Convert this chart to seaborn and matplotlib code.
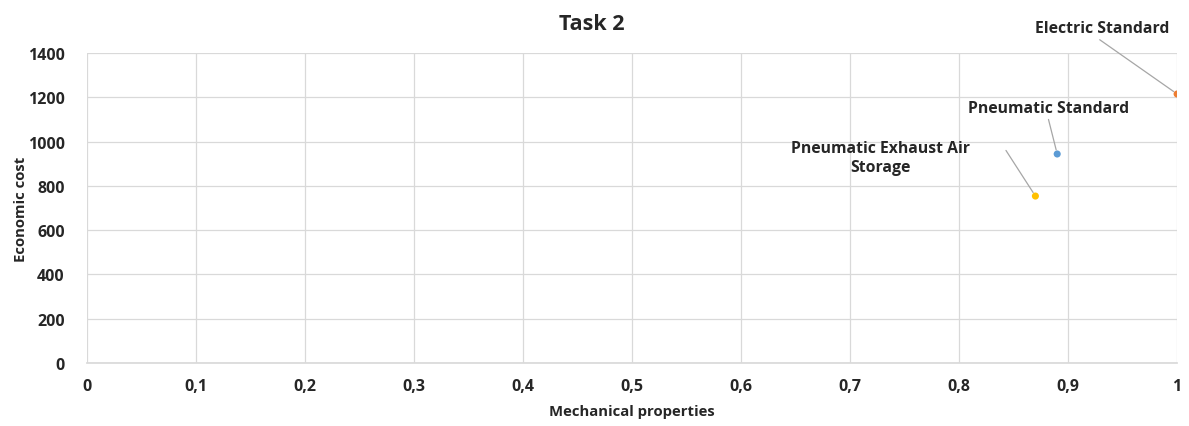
import matplotlib
matplotlib.use("Agg")
import matplotlib.pyplot as plt
import seaborn as sns
import pandas as pd

names = ["Electric Standard", "Pneumatic Standard", "Pneumatic Exhaust Air\nStorage"]
mech = [1.0, 0.89, 0.87]
cost = [1215, 944, 754]
colors = ["#ED7D31", "#5B9BD5", "#FFC000"]
xticks = [0, 0.1, 0.2, 0.3, 0.4, 0.5, 0.6, 0.7, 0.8, 0.9, 1.0]
xticklabels = ["0", "0,1", "0,2", "0,3", "0,4", "0,5", "0,6", "0,7", "0,8", "0,9", "1"]
yticks = [0, 200, 400, 600, 800, 1000, 1200, 1400]

sns.set_theme(style="white")
plt.rcParams['font.family'] = ['Open Sans', 'DejaVu Sans']

df = pd.DataFrame({"name": names, "mech": mech, "cost": cost})

fig = plt.figure(figsize=(11.89, 4.27), dpi=100)
ax = fig.add_axes([0.0732, 0.1475, 0.9168, 0.726])
sns.scatterplot(data=df, x="mech", y="cost", hue="name", palette=colors,
                s=26, edgecolor="none", legend=False, ax=ax, zorder=3)

ax.set_xlim(0, 1)
ax.set_ylim(0, 1400)
ax.set_xticks(xticks)
ax.set_xticklabels(xticklabels, fontweight="bold", fontsize=11.5)
ax.set_yticks(yticks)
ax.set_yticklabels([str(v) for v in yticks], fontweight="bold", fontsize=11.5)
ax.tick_params(axis="x", length=0, pad=11)
ax.tick_params(axis="y", length=0, pad=16)
ax.grid(True, color="#D9D9D9", linewidth=0.9)
for s in ["top", "right", "left"]:
    ax.spines[s].set_visible(False)
ax.spines["bottom"].set_color("#D9D9D9")
ax.set_xlabel("Mechanical properties", fontweight="bold", fontsize=10.7, labelpad=7)
ax.set_ylabel("Economic cost", fontweight="bold", fontsize=10.7, labelpad=0)
fig.suptitle("Task 2", fontweight="bold", fontsize=15.5, x=0.498, y=0.968, va="top")
ax.set_axisbelow(True)

label_pos = [(0.931, 1515), (0.8817, 1150), (0.7275, 930)]
line_start = [(0.929, 1460), (0.882, 1100), (0.843, 960)]
for i in range(len(names)):
    ax.text(label_pos[i][0], label_pos[i][1], names[i], ha="center", va="center",
            fontweight="bold", fontsize=11.3, clip_on=False, linespacing=1.25)
    ax.annotate("", xy=(mech[i], cost[i]), xytext=line_start[i],
                arrowprops=dict(arrowstyle="-", color="#A6A6A6", lw=0.9,
                                shrinkA=0, shrinkB=3),
                annotation_clip=False)

fig.savefig("out.png", dpi=100)
